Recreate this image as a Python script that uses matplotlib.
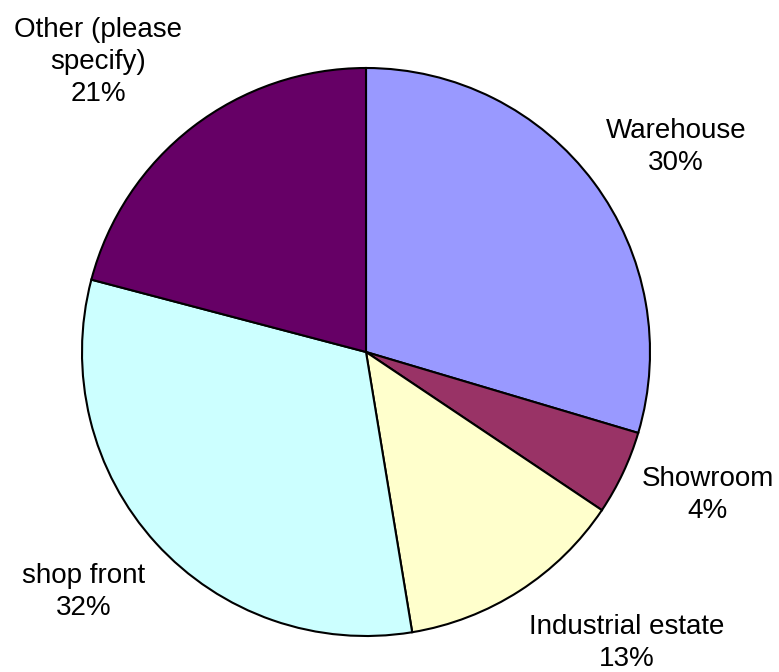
import numpy as np
import matplotlib
matplotlib.use("Agg")
import matplotlib.pyplot as plt

plt.rcParams['font.family'] = ['Liberation Sans', 'DejaVu Sans']

# slices, clockwise from 12 o'clock
categories = ["Warehouse", "Showroom", "Industrial estate", "shop front", "Other (please\nspecify)"]
shares = [29.6, 4.8, 13.0, 31.7, 20.9]
pct_labels = ["30%", "4%", "13%", "32%", "21%"]
colors = ["#9999FF", "#993366", "#FFFFCC", "#CCFFFF", "#660066"]

# label centres in pixels from top-left (layout only)
label_xy = [(676, 147), (708, 495), (627, 643), (84, 592), (98, 62)]

W, H = 779, 672
fig = plt.figure(figsize=(W / 100, H / 100), dpi=100)
ax = fig.add_axes([0, 0, 1, 1])

cx, cy, r = 366, H - 352, 284
wedges, _ = ax.pie(shares, colors=colors, startangle=90, counterclock=False,
                   center=(cx, cy), radius=r, frame=True,
                   wedgeprops=dict(edgecolor='black', linewidth=1.5))
ax.set_xlim(0, W)
ax.set_ylim(0, H)
ax.set_aspect('equal')
ax.axis('off')

for name, pct, (lx, ly) in zip(categories, pct_labels, label_xy):
    ax.text(lx, H - ly, name + "\n" + pct, ha='center', va='center',
            fontsize=20, linespacing=1.32)

fig.savefig("out.png", dpi=100)
